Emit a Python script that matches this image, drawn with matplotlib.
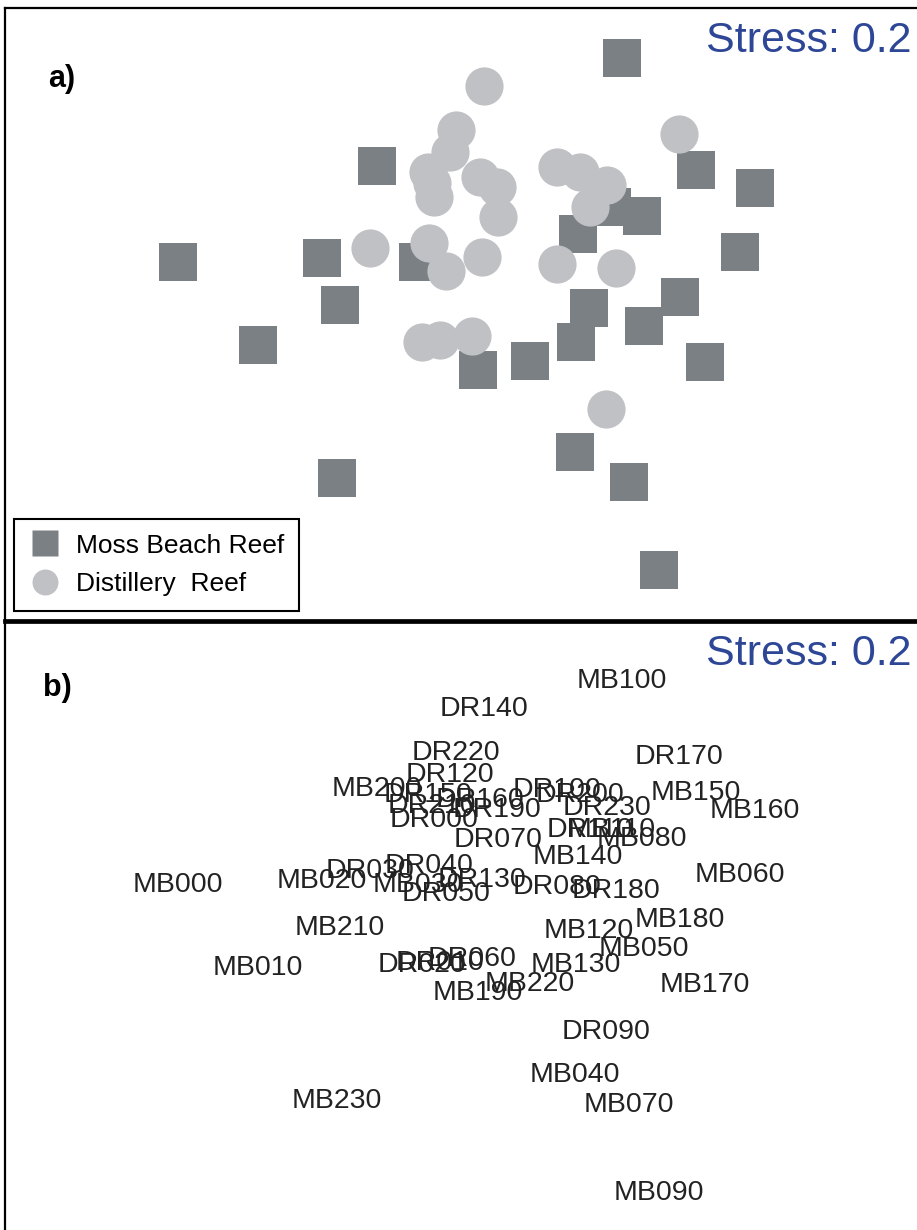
import numpy as np
import matplotlib
matplotlib.use('Agg')
import matplotlib.pyplot as plt
from matplotlib.lines import Line2D

plt.rcParams['font.family'] = ['Liberation Sans', 'DejaVu Sans']

# NMDS ordination coordinates
mb_names = ['MB000', 'MB010', 'MB020', 'MB030', 'MB040', 'MB050', 'MB060', 'MB070',
            'MB080', 'MB090', 'MB100', 'MB110', 'MB120', 'MB130', 'MB140', 'MB150',
            'MB160', 'MB170', 'MB180', 'MB190', 'MB200', 'MB210', 'MB220', 'MB230']
mb_x = [-2.72, -1.92, -1.28, -0.32, 1.25, 1.94, 2.90, 1.79,
        1.92, 2.09, 1.72, 1.62, 1.39, 1.26, 1.28, 2.46,
        3.05, 2.55, 2.30, 0.28, -0.73, -1.10, 0.80, -1.13]
mb_y = [0.38, -0.45, 0.42, 0.38, -1.52, -0.26, 0.48, -1.82,
        0.84, -2.70, 2.42, 0.93, -0.08, -0.42, 0.66, 1.30,
        1.12, -0.62, 0.03, -0.70, 1.34, -0.05, -0.61, -1.78]

dr_names = ['DR000', 'DR010', 'DR020', 'DR030', 'DR040', 'DR050', 'DR060', 'DR070',
            'DR080', 'DR090', 'DR100', 'DR110', 'DR120', 'DR130', 'DR140', 'DR150',
            'DR160', 'DR170', 'DR180', 'DR190', 'DR200', 'DR210', 'DR220', 'DR230']
dr_x = [-0.16, -0.10, -0.28, -0.80, -0.21, -0.04, 0.22, 0.48,
        1.07, 1.56, 1.07, 1.40, 0.00, 0.32, 0.34, -0.22,
        0.30, 2.29, 1.66, 0.47, 1.30, -0.18, 0.06, 1.57]
dr_y = [1.03, -0.40, -0.42, 0.52, 0.57, 0.29, -0.36, 0.83,
        0.36, -1.09, 1.33, 0.93, 1.48, 0.43, 2.14, 1.28,
        1.23, 1.66, 0.32, 1.13, 1.28, 1.17, 1.70, 1.15]

stress = 0.2
sq_col = '#7b8084'
ci_col = '#c0c1c5'
blue = '#2d4696'

W, H = 917, 1230
fig = plt.figure(figsize=(W/100.0, H/100.0), dpi=100)

# panel b first so panel a's thick bottom line stays on top
axb = fig.add_axes([5.0/W, (H-1234.0)/H, 915.0/W, 613.0/H])
axb.patch.set_visible(False)
for n, x, y in zip(mb_names, mb_x, mb_y):
    axb.text(x, y, n, ha='center', va='center', fontsize=20.5, color='#222222')
for n, x, y in zip(dr_names, dr_x, dr_y):
    axb.text(x, y, n, ha='center', va='center', fontsize=20.5, color='#222222')
axb.set_xlim(-4.45, 4.70)
axb.set_ylim(-3.11, 3.02)
axb.set_xticks([])
axb.set_yticks([])
axb.spines['left'].set_linewidth(1.6)
axb.spines['top'].set_visible(False)
axb.spines['right'].set_visible(False)
axb.spines['bottom'].set_visible(False)
axb.text(0.991, 0.928, 'Stress: %s' % stress, transform=axb.transAxes, ha='right',
         va='baseline', fontsize=31, color=blue)
axb.text(0.041, 0.877, 'b)', transform=axb.transAxes, ha='left', va='baseline',
         fontsize=22, fontweight='bold')

# panel a
axa = fig.add_axes([5.0/W, (H-621.0)/H, 915.0/W, 613.5/H])
axa.patch.set_visible(False)
axa.scatter(mb_x, mb_y, marker='s', s=28**2, c=sq_col, linewidths=0, zorder=2)
axa.scatter(dr_x, dr_y, marker='o', s=27.5**2, c=ci_col, linewidths=0, zorder=3)
axa.set_xlim(-4.45, 4.70)
axa.set_ylim(-3.21, 2.925)
axa.set_xticks([])
axa.set_yticks([])
for sp in ['top', 'left']:
    axa.spines[sp].set_linewidth(1.6)
axa.spines['bottom'].set_linewidth(3.4)
axa.spines['right'].set_visible(False)
axa.text(0.991, 0.927, 'Stress: %s' % stress, transform=axa.transAxes, ha='right',
         va='baseline', fontsize=31, color=blue)
axa.text(0.047, 0.871, 'a)', transform=axa.transAxes, ha='left', va='baseline',
         fontsize=22, fontweight='bold')

handles = [Line2D([], [], ls='none', marker='s', ms=18.7, mfc=sq_col, mec='none'),
           Line2D([], [], ls='none', marker='o', ms=18.7, mfc=ci_col, mec='none')]
leg = axa.legend(handles, ['Moss Beach Reef', 'Distillery  Reef'], loc='lower left',
                 bbox_to_anchor=(14.0/W, (H-611.0)/H), bbox_transform=fig.transFigure,
                 borderaxespad=0, fontsize=19, frameon=True, fancybox=False,
                 edgecolor='black', framealpha=1, handlelength=1.2, handletextpad=0.6,
                 labelspacing=0.55, borderpad=0.56)
leg.get_frame().set_linewidth(1.5)

fig.savefig('out.png', dpi=100)
